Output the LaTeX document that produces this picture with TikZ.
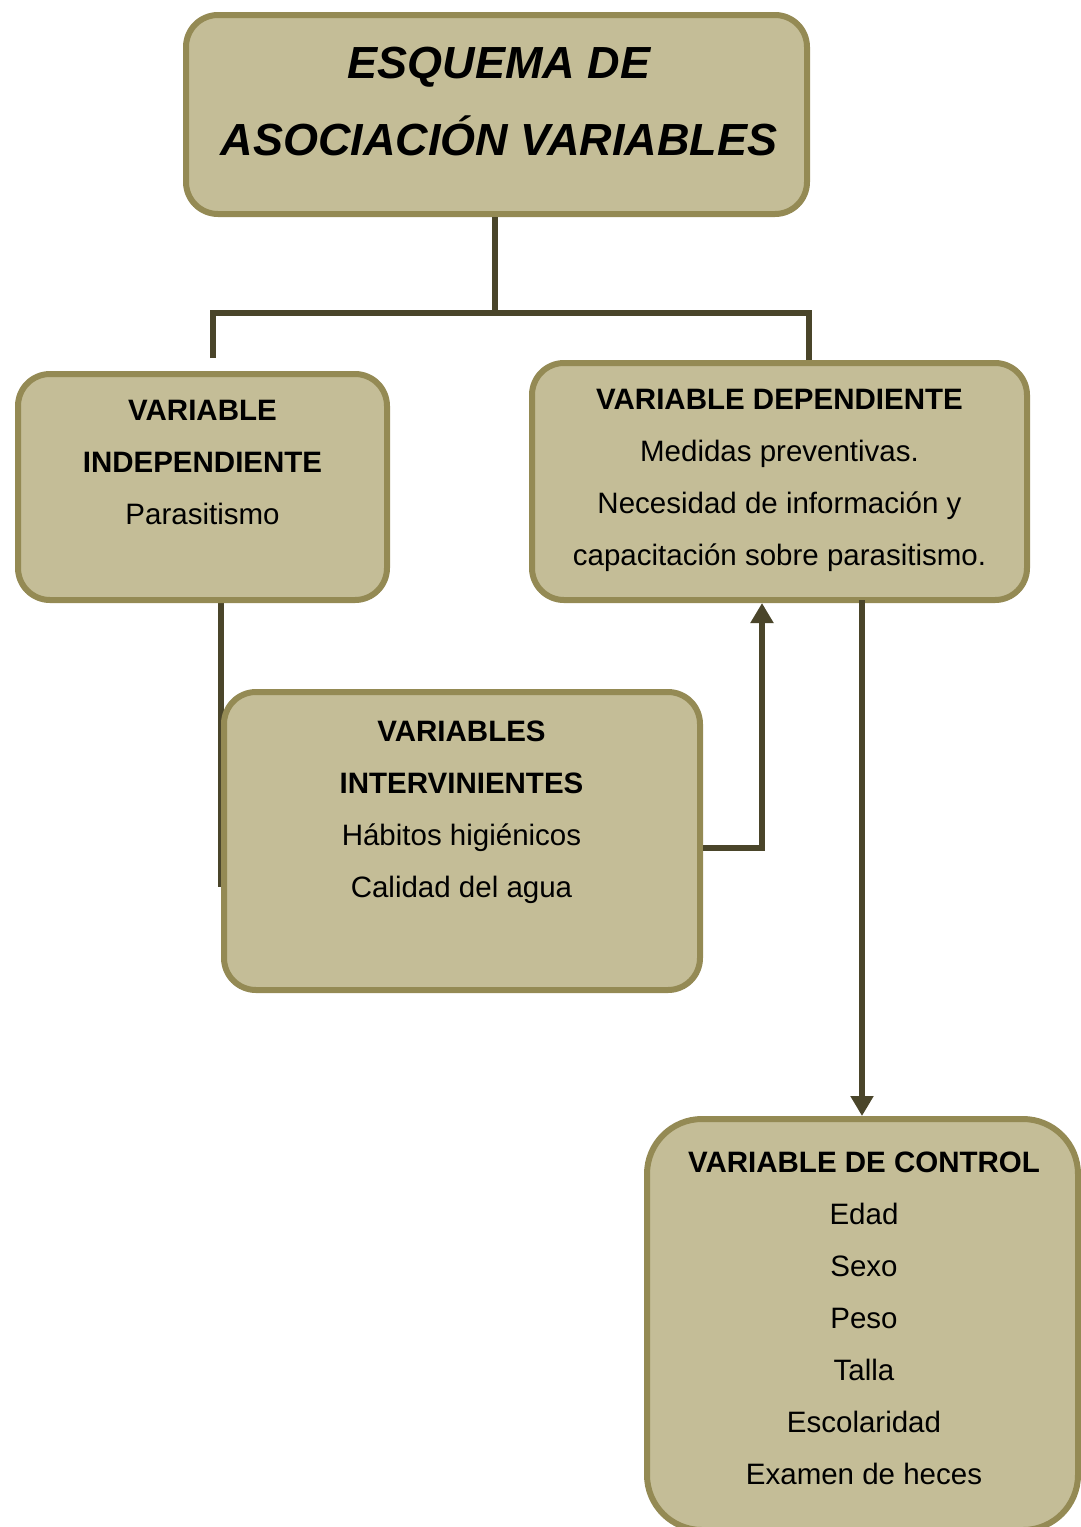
\documentclass[tikz,border=0pt]{standalone}
\usepackage{fontspec}
\setmainfont{Liberation Sans}
\usetikzlibrary{arrows.meta}
\definecolor{boxfill}{HTML}{C4BD97}
\definecolor{boxline}{HTML}{948A54}
\definecolor{connc}{HTML}{4A452A}
\begin{document}
\begin{tikzpicture}[x=1pt,y=-1pt,
  box/.style={draw=boxline, fill=boxfill, line width=6pt, rounded corners=32pt, inner sep=0pt},
  txt/.style={align=center, font=\fontsize{29.5}{52}\selectfont, inner sep=0pt, anchor=base},
  conn/.style={draw=connc, line width=6.5pt},
  tip/.style={-{Triangle[length=20pt,width=22pt]}}]
\useasboundingbox (0,0) rectangle (1081,1527);

% connectors behind boxes
\coordinate (bar) at (495,313);
\coordinate (lt) at (213,358);
\coordinate (rt) at (809,360);
\coordinate (ivtop) at (221,603);
\coordinate (ivbot) at (221,887);
\draw[conn] (ivtop) -- (ivbot);

% boxes
\node[box, minimum width=621pt, minimum height=199pt] (title) at (496.5,114.5) {};
\node[box, minimum width=369pt, minimum height=226pt] (indep) at (202.5,487) {};
\node[box, minimum width=495pt, minimum height=237pt] (dep) at (779.5,481.5) {};
\node[box, minimum width=476pt, minimum height=298pt] (interv) at (462,841) {};
\node[box, rounded corners=55pt, minimum width=431pt, minimum height=411pt] (ctrl) at (862.5,1324.5) {};

% texts (anchor = baseline of the last line)
\node[txt, font=\fontsize{45}{77}\selectfont\bfseries\itshape] (titletxt) at (499,155) {ESQUEMA DE\\ASOCIACIÓN VARIABLES};
\node[txt] (indeptxt) at (202.5,524) {\textbf{VARIABLE}\\\textbf{INDEPENDIENTE}\\Parasitismo};
\node[txt] (deptxt) at (779.5,565) {\textbf{VARIABLE DEPENDIENTE}\\Medidas preventivas.\\Necesidad de información y\\capacitación sobre parasitismo.};
\node[txt] (intervtxt) at (461.5,897) {\textbf{VARIABLES}\\\textbf{INTERVINIENTES}\\Hábitos higiénicos\\Calidad del agua};
\node[txt] (ctrltxt) at (864,1484) {\textbf{VARIABLE DE CONTROL}\\Edad\\Sexo\\Peso\\Talla\\Escolaridad\\Examen de heces};

% tree connector
\draw[conn] (title.south -| bar) -- (bar);
\draw[conn] (lt) |- (bar) -| (rt);

% intervening -> dependent
\coordinate (elb) at (762,848);
\draw[conn, tip] (interv.east |- elb) -- (elb) -- (elb |- dep.south);

% dependent -> control
\coordinate (dsrc) at (862,600);
\draw[conn, tip] (dsrc) -- (dsrc |- ctrl.north);
\end{tikzpicture}
\end{document}
